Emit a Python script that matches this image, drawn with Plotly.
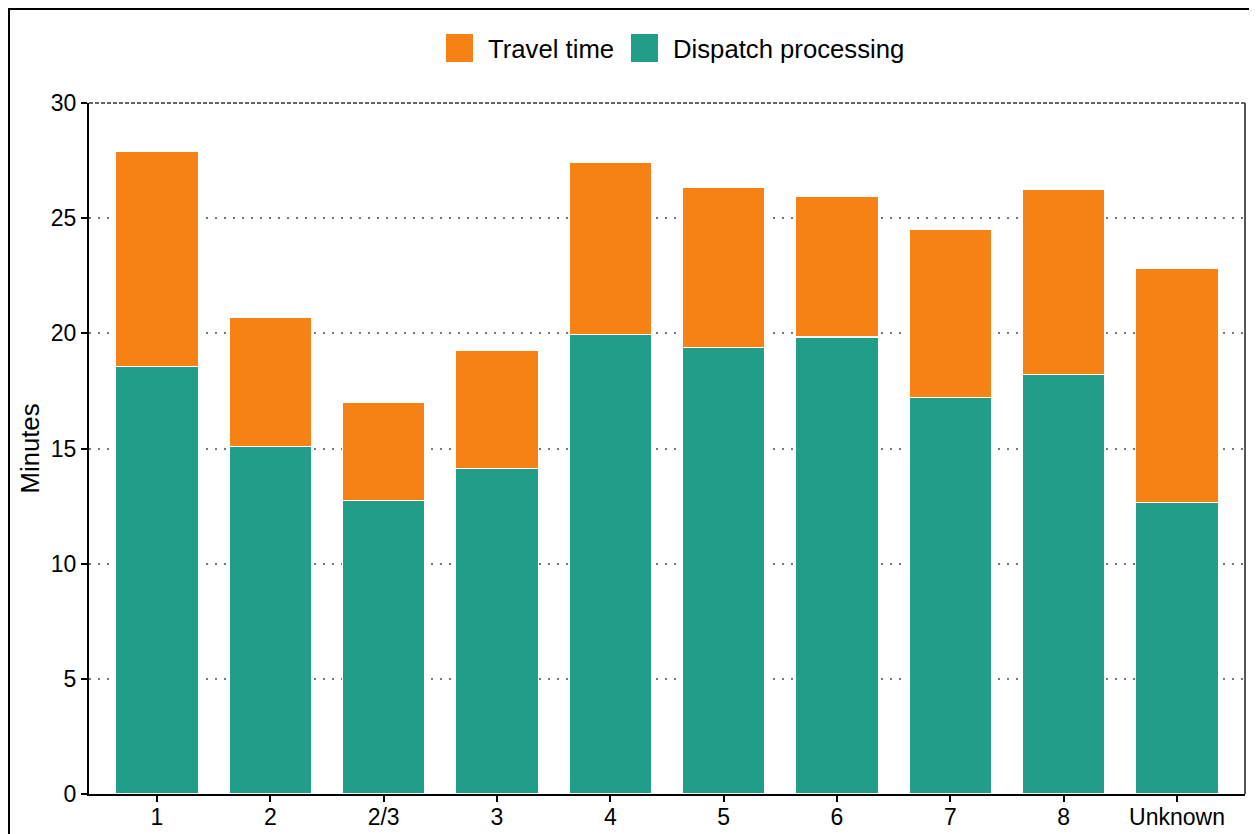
import plotly.graph_objects as go

categories = ["1", "2", "2/3", "3", "4", "5", "6", "7", "8", "Unknown"]
dispatch_processing = [18.55, 15.10, 12.74, 14.13, 19.94, 19.37, 19.84, 17.20, 18.22, 12.67]
total_time = [27.91, 20.68, 16.98, 19.24, 27.40, 26.32, 25.96, 24.53, 26.27, 22.84]
travel_time = [round(t - d, 2) for t, d in zip(total_time, dispatch_processing)]
y_ticks = [0, 5, 10, 15, 20, 25, 30]

ORANGE = "#F68215"
TEAL = "#209E89"
OFF = 8  # page body margin offset
W, H = 1257 - OFF, 834 - OFF
# desired plot area in screen px: left 89, right 1245, top 103, bottom 794
L, T = 89 - OFF, 103 - OFF
R = W - (1245 - OFF)
B = H - (794 - OFF)
PW, PH = W - L - R, H - T - B

def px(x):
    return (x - OFF - L) / PW

def py(y):
    return (H - B - (y - OFF)) / PH

fig = go.Figure()
fig.add_trace(go.Bar(x=categories, y=dispatch_processing, name="Dispatch processing",
                     marker=dict(color=TEAL, line=dict(color="white", width=1.2)), width=0.73))
fig.add_trace(go.Bar(x=categories, y=travel_time, name="Travel time",
                     marker=dict(color=ORANGE, line=dict(color="white", width=1.2)), width=0.73))

font = "Liberation Sans, Arial, sans-serif"
fig.update_layout(
    barmode="stack", width=W, height=H, showlegend=False,
    margin=dict(l=L, r=R, t=T, b=B, autoexpand=False),
    paper_bgcolor="white", plot_bgcolor="white",
    font=dict(family=font, size=23, color="black"),
    xaxis=dict(type="category", range=[-0.6, 9.6], showline=True, linecolor="black", linewidth=2,
               ticks="outside", ticklen=6, tickwidth=1.5, tickcolor="black", showgrid=False,
               tickfont=dict(size=23), fixedrange=True, automargin=False, ticklabelstandoff=-5),
    yaxis=dict(range=[0, 30], tickvals=y_ticks, showline=True, linecolor="black", linewidth=2,
               ticks="outside", ticklen=6, tickwidth=1.5, tickcolor="black",
               showgrid=True, gridcolor="#777777", gridwidth=2, griddash="2px,7px",
               zeroline=False, tickfont=dict(size=23), automargin=False,
               title=dict(text="Minutes", font=dict(size=25.7), standoff=4)),
)

shapes = [
    dict(type="line", xref="paper", yref="paper", x0=0, x1=1, y0=1, y1=1,
         line=dict(color="#333333", width=1.5, dash="4px,2px")),
    dict(type="line", xref="paper", yref="paper", x0=1, x1=1, y0=0, y1=1,
         line=dict(color="#555555", width=2)),
    dict(type="rect", xref="paper", yref="paper", x0=px(9), x1=px(1270), y0=py(9), y1=py(850),
         line=dict(color="black", width=2), fillcolor="rgba(0,0,0,0)"),
    dict(type="rect", xref="paper", yref="paper", x0=px(446), x1=px(473), y0=py(62), y1=py(34),
         line=dict(width=0), fillcolor=ORANGE),
    dict(type="rect", xref="paper", yref="paper", x0=px(631), x1=px(658), y0=py(62), y1=py(34),
         line=dict(width=0), fillcolor=TEAL),
]
annotations = [
    dict(text="Travel time", xref="paper", yref="paper", x=px(486), y=py(49),
         xanchor="left", yanchor="middle", showarrow=False, font=dict(size=25.7)),
    dict(text="Dispatch processing", xref="paper", yref="paper", x=px(671), y=py(49),
         xanchor="left", yanchor="middle", showarrow=False, font=dict(size=25.7)),
]
fig.update_layout(shapes=shapes, annotations=annotations)
fig.write_html("out.html")
